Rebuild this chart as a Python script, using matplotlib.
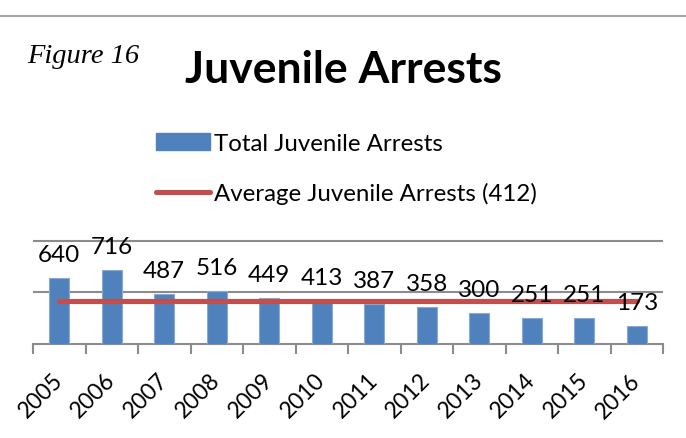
import matplotlib
matplotlib.use("Agg")
import matplotlib.pyplot as plt
from matplotlib.lines import Line2D

years = ["2005", "2006", "2007", "2008", "2009", "2010",
         "2011", "2012", "2013", "2014", "2015", "2016"]
arrests = [640, 716, 487, 516, 449, 413, 387, 358, 300, 251, 251, 173]
average = 412

BLUE = "#4F81BD"
RED = "#C0504D"
GRID = "#8C8C8C"

W, H = 686, 439
fig = plt.figure(figsize=(W / 100, H / 100), dpi=100)

# plot area in pixel terms: x 33..663, baseline at y=345
ymax = 1020
px_per_unit = (345 - 241.7) / 1000
ax_h = ymax * px_per_unit
ax = fig.add_axes([33 / W, (H - 345) / H, (663 - 33) / W, ax_h / H])

x = list(range(len(years)))
ax.bar(x, arrests, width=0.38, color=BLUE, edgecolor="#8AAAD4",
       linewidth=0.8, zorder=3)
ax.plot(x, [average] * len(x), color=RED, lw=3.7,
        solid_capstyle="round", zorder=4)

for xi, v in zip(x, arrests):
    ax.annotate(str(v), (xi, v), xytext=(0, 12.2), textcoords="offset points",
                ha="center", va="baseline", fontsize=17.5,
                family="Lato", color="black", zorder=5)

ax.set_xlim(-0.5, len(x) - 0.5)
ax.set_ylim(0, ymax)
ax.set_yticks([500, 1000])
ax.set_yticklabels([])
ax.tick_params(axis="y", length=0)
ax.grid(axis="y", color=GRID, lw=1.5, zorder=0)
ax.set_axisbelow(True)

# boundary ticks below the axis, year labels at category centres
ax.set_xticks([i - 0.5 for i in range(len(x) + 1)])
ax.set_xticklabels([])
ax.tick_params(axis="x", which="major", length=7, width=1.5, color=GRID,
               direction="out")
ax.set_xticks(x, minor=True)
ax.set_xticklabels(years, minor=True, rotation=45, ha="right",
                   va="center", rotation_mode="anchor",
                   fontsize=16.5, family="Lato")
ax.tick_params(axis="x", which="minor", length=0, pad=23.4)

for s in ("left", "right", "top"):
    ax.spines[s].set_visible(False)
ax.spines["bottom"].set_color(GRID)
ax.spines["bottom"].set_linewidth(1.5)

handles = [plt.Rectangle((0, 0), 1, 1, color=BLUE),
           Line2D([0], [0], color=RED, lw=3.7, solid_capstyle="round")]
labels = ["Total Juvenile Arrests", "Average Juvenile Arrests (412)"]
fig.legend(handles, labels, loc="upper left",
           bbox_to_anchor=(156 / W, 1 - 134 / H), frameon=False,
           prop={"family": "Lato", "size": 17.3},
           handlelength=2.25, handleheight=0.67, handletextpad=0.17,
           labelspacing=1.17, borderaxespad=0, borderpad=0)

fig.text(343 / W, 1 - 83 / H, "Juvenile Arrests", ha="center",
         va="baseline", fontsize=32, fontweight="bold", family="Lato")
fig.text(27 / W, 1 - 63 / H, "Figure 16", ha="left", va="baseline",
         fontsize=20.5, style="italic", family="Liberation Serif")

fig.add_artist(Line2D([0, 1], [1 - 17 / H, 1 - 17 / H],
                      transform=fig.transFigure, color="#A6A6A6", lw=1.5))

fig.savefig("out.png", dpi=100)
